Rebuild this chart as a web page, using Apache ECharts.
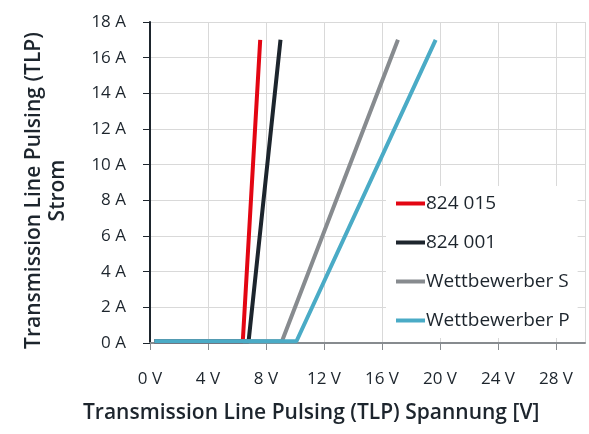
<!DOCTYPE html>
<html>
<head>
<meta charset="utf-8">
<script src="https://cdn.jsdelivr.net/npm/echarts@6/dist/echarts.min.js"></script>
<style>
html, body { margin: 0; padding: 0; background: #fff; }
#chart { width: 589px; height: 434px; }
</style>
</head>
<body>
<div id="chart"></div>
<script>
var seriesNames = ['824 015', '824 001', 'Wettbewerber S', 'Wettbewerber P'];
var seriesColors = ['#e30613', '#1d252d', '#878b8f', '#4aabc6'];
// [Spannung V, Strom A]
var red015 = [[0.3, 0.1], [6.4, 0.1], [7.6, 17]];
var black001 = [[0.3, 0.1], [6.8, 0.1], [9.0, 17]];
var grayS = [[0.3, 0.1], [9.1, 0.1], [17.1, 17]];
var blueP = [[0.3, 0.1], [10.1, 0.1], [19.7, 17]];
var allData = [red015, black001, grayS, blueP];

var fontFam = '"Open Sans"';
var textCol = '#1d252d';

var myChart = echarts.init(document.getElementById('chart'));

var series = [];
for (var i = 0; i < allData.length; i++) {
    series.push({
        name: seriesNames[i],
        type: 'line',
        data: allData[i],
        symbol: 'none',
        color: seriesColors[i],
        lineStyle: { width: 4, color: seriesColors[i] }
    });
}

var option = {
    animation: false,
    grid: { left: 150, right: 4, top: 22, bottom: 91, containLabel: false },
    legend: {
        orient: 'vertical',
        left: 386,
        top: 186,
        padding: [8, 8, 8, 10],
        backgroundColor: '#fff',
        itemWidth: 29,
        itemHeight: 4,
        itemGap: 20,
        icon: 'rect',
        textStyle: { fontFamily: fontFam, fontSize: 19, color: textCol, padding: [0, 0, 0, -4] },
        data: seriesNames
    },
    xAxis: {
        type: 'value',
        min: 0,
        max: 30,
        interval: 4,
        axisLine: { show: true, lineStyle: { color: '#878b8f', width: 2 } },
        axisTick: { show: true, length: 7, lineStyle: { color: '#878b8f', width: 1 } },
        axisLabel: {
            margin: 28, fontFamily: fontFam, fontSize: 17, color: textCol,
            showMaxLabel: false,
            formatter: function (v) { return v + ' V'; }
        },
        splitLine: { show: true, lineStyle: { color: '#d9d9d9', width: 1 } }
    },
    yAxis: {
        type: 'value',
        min: 0,
        max: 18,
        interval: 2,
        name: 'Transmission Line Pulsing (TLP)\nStrom',
        nameLocation: 'middle',
        nameGap: 80,
        nameTextStyle: { fontFamily: fontFam, fontSize: 21, fontWeight: 600, color: textCol, lineHeight: 24, padding: [0, 16, 0, 0] },
        axisLine: { show: true, lineStyle: { color: '#1d252d', width: 2 } },
        axisTick: { show: true, length: 7, lineStyle: { color: '#1d252d', width: 1 } },
        axisLabel: {
            margin: 24, fontFamily: fontFam, fontSize: 17, color: textCol,
            formatter: function (v) { return v + ' A'; }
        },
        splitLine: { show: true, lineStyle: { color: '#d9d9d9', width: 1 } }
    },
    graphic: [{
        type: 'text',
        left: 83,
        top: 403,
        style: {
            text: 'Transmission Line Pulsing (TLP) Spannung [V]',
            fontFamily: fontFam, fontSize: 21, fontWeight: 600, fill: textCol
        }
    }],
    series: series
};
myChart.setOption(option);
</script>
</body>
</html>
